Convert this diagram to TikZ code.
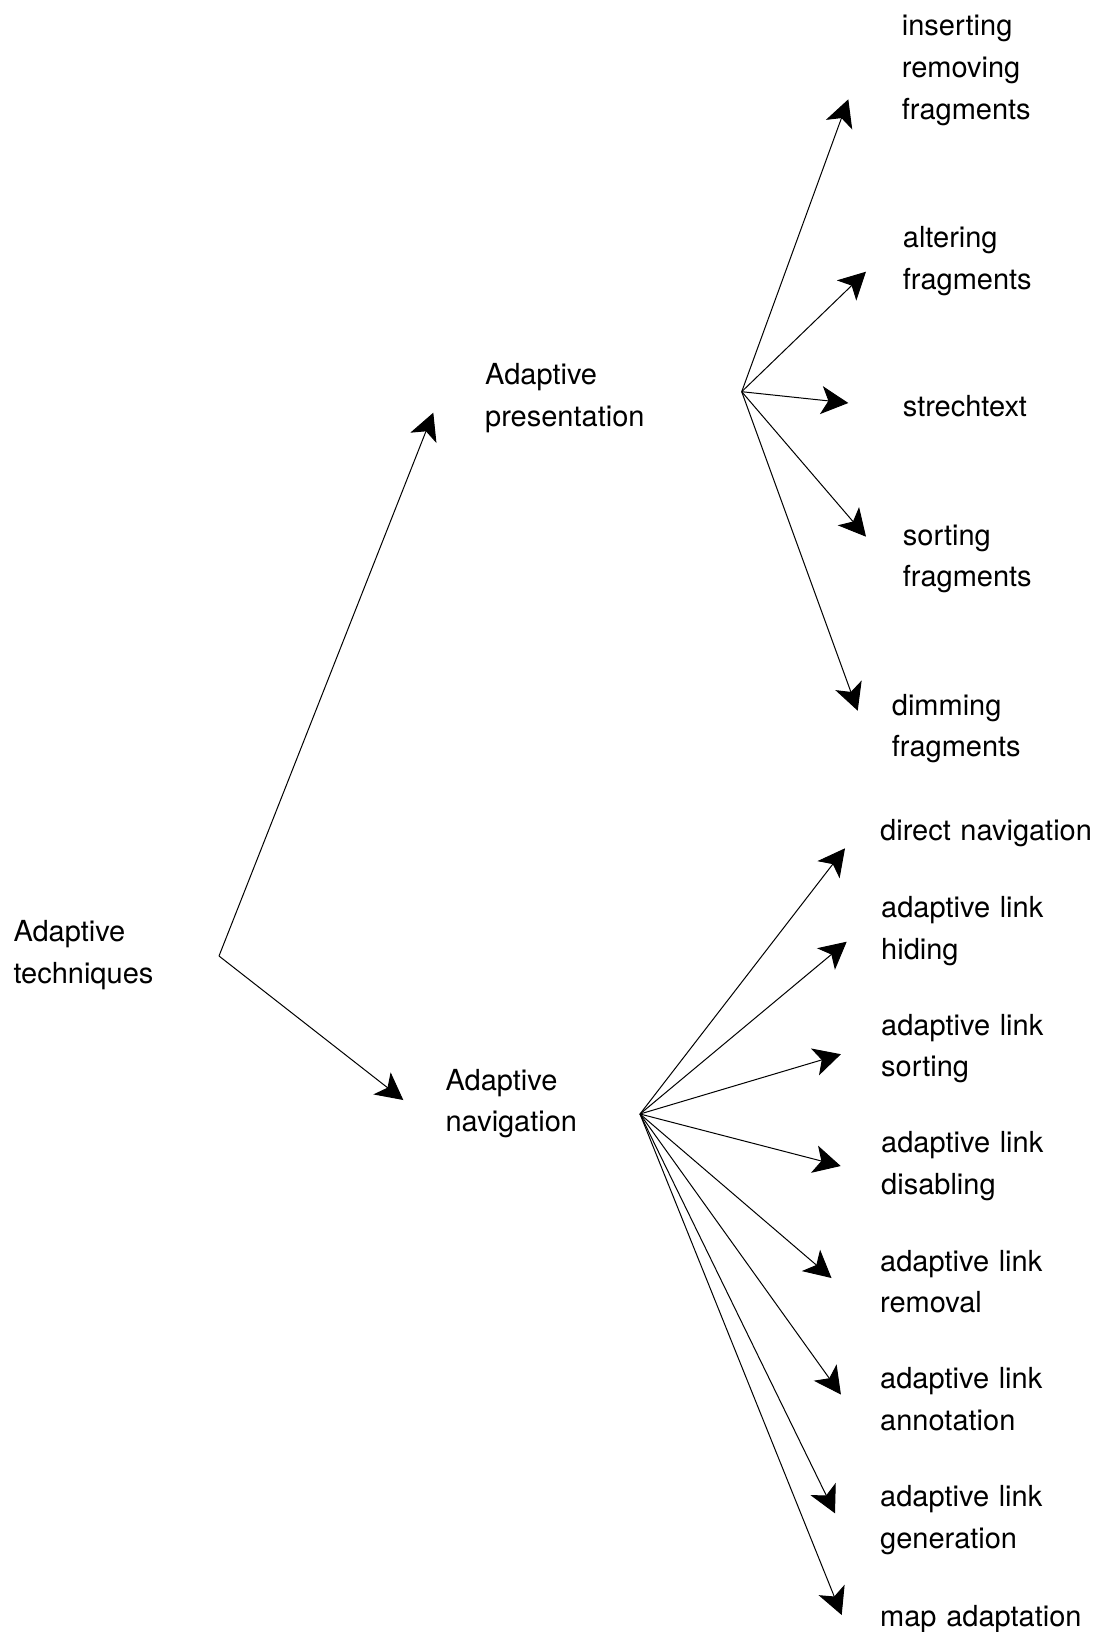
\documentclass[tikz,border=0pt]{standalone}
\usepackage{fontspec}
\setmainfont{TeX Gyre Heros}
\usetikzlibrary{arrows.meta}
\begin{document}
\begin{tikzpicture}[x=1pt,y=-1pt,
  label/.style={anchor=base west, inner sep=0pt, text width=240pt, align=left,
                font=\fontsize{29}{41.6}\selectfont},
  link/.style={line width=1pt, -{Stealth[length=27pt, width=28pt, inset=7pt]}}]
\useasboundingbox (0,0) rectangle (1099,1632);

% labels
\node[label] (tech) at (13.3,941.7) {Adaptive\\techniques};
\node[label] (pres) at (485,384.7) {Adaptive\\presentation};
\node[label] (nav)  at (445.4,1090.2) {Adaptive\\navigation};

\node[label] (ins)  at (901.7,36)    {inserting\\removing\\fragments};
\node[label] (alt)  at (902.7,247.7) {altering\\fragments};
\node[label] (str)  at (902.7,416.7) {strechtext};
\node[label] (sor)  at (902.7,545)   {sorting\\fragments};
\node[label] (dim)  at (891.7,715)   {dimming\\fragments};

\node[label] (dir)  at (880,840.7)  {direct navigation};
\node[label] (hid)  at (881,917.5)  {adaptive link\\hiding};
\node[label] (lso)  at (881,1035)   {adaptive link\\sorting};
\node[label] (dis)  at (881,1152.7) {adaptive link\\disabling};
\node[label] (rem)  at (880,1271.3) {adaptive link\\removal};
\node[label] (ann)  at (880,1388.9) {adaptive link\\annotation};
\node[label] (gen)  at (880,1506.5) {adaptive link\\generation};
\node[label] (map)  at (880,1626.7) {map adaptation};

% branching points
\coordinate (hubT) at (219,956);
\coordinate (hubP) at (741.7,391.7);
\coordinate (hubN) at (640,1114);

% arrow tips
\coordinate (tP)   at (433.3,412.7);
\coordinate (tN)   at (403.3,1100);
\coordinate (tIns) at (848.3,99.3);
\coordinate (tAlt) at (866,271.7);
\coordinate (tStr) at (848.3,403);
\coordinate (tSor) at (866,536.7);
\coordinate (tDim) at (857.7,710.7);
\coordinate (tDir) at (845,848.3);
\coordinate (tHid) at (846.7,941.7);
\coordinate (tLso) at (840.9,1054.2);
\coordinate (tDis) at (840.7,1166);
\coordinate (tRem) at (831.5,1278);
\coordinate (tAnn) at (840.9,1394.5);
\coordinate (tGen) at (835,1513.3);
\coordinate (tMap) at (841.7,1615);

% connectors
\draw[link] (hubT) -- (tP);
\draw[link] (hubT) -- (tN);

\foreach \t in {tIns,tAlt,tStr,tSor,tDim}
  \draw[link] (hubP) -- (\t);

\foreach \t in {tDir,tHid,tLso,tDis,tRem,tAnn,tGen,tMap}
  \draw[link] (hubN) -- (\t);
\end{tikzpicture}
\end{document}
